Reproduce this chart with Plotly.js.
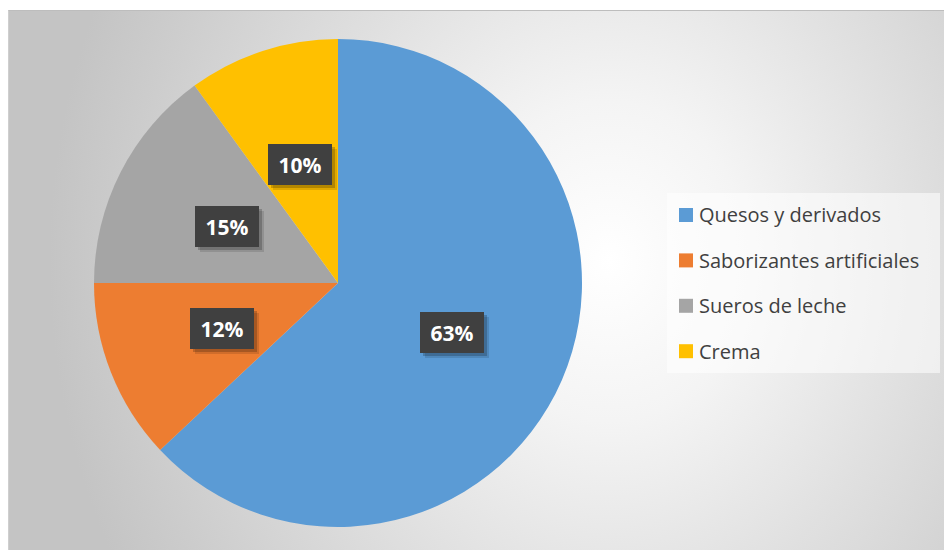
<!DOCTYPE html>
<html>
<head>
<meta charset="utf-8">
<script src="https://cdn.plot.ly/plotly-3.0.1.min.js"></script>
<style>
  html, body { margin: 0; padding: 0; background: #ffffff; }
  #wrap { position: relative; width: 944px; height: 550px; overflow: hidden; }
  #bg {
    position: absolute; left: 8px; top: 10px; width: 936px; height: 540px;
    border-top: 1px solid #bdbdbd; border-left: 1px solid #cfcfcf;
    box-sizing: border-box;
    background: radial-gradient(ellipse 560px 640px at 600px 250px, #ffffff 0%, #f4f4f4 25%, #e0e0e0 55%, #cdcdcd 85%, #c4c4c4 100%);
  }
  #chart { position: absolute; left: 0; top: 0; width: 944px; height: 550px; }
</style>
</head>
<body>
<div id="wrap">
  <div id="bg"></div>
  <div id="chart"></div>
</div>
<script>
// ---- data ----
const categories = ['Quesos y derivados', 'Saborizantes artificiales', 'Sueros de leche', 'Crema'];
const values = [63, 12, 15, 10];
const colors = ['#5B9BD5', '#ED7D31', '#A5A5A5', '#FFC000'];

// ---- layout geometry (pixels) ----
const W = 944, H = 550;
const pieCx = 338, pieCy = 283, pieR = 244;
const dom = {
  x: [(pieCx - pieR) / W, (pieCx + pieR) / W],
  y: [1 - (pieCy + pieR) / H, 1 - (pieCy - pieR) / H]
};

const total = values.reduce((a, b) => a + b, 0);

const annotations = [];
const shapes = [];

// data labels placed at mid-angle, about half radius
let cum = 0;
values.forEach((v, i) => {
  const mid = (cum + v / 2) / total;
  cum += v;
  const ang = mid * 2 * Math.PI; // clockwise from top
  const px = pieCx + 0.51 * pieR * Math.sin(ang);
  const py = pieCy - 0.51 * pieR * Math.cos(ang);
  const txt = Math.round(v / total * 100) + '%';
  const base = {
    x: px / W, y: 1 - py / H, xref: 'paper', yref: 'paper',
    xanchor: 'center', yanchor: 'middle', showarrow: false,
    width: 60, height: 37, borderpad: 2, borderwidth: 0
  };
  // soft shadow
  annotations.push(Object.assign({}, base, {
    text: ' ', bgcolor: 'rgba(0,0,0,0.12)', xshift: 5, yshift: -5
  }));
  annotations.push(Object.assign({}, base, {
    text: ' ', bgcolor: 'rgba(0,0,0,0.2)', xshift: 3, yshift: -3
  }));
  annotations.push(Object.assign({}, base, {
    text: txt, bgcolor: '#404040',
    font: { family: 'Open Sans, sans-serif', size: 21, color: '#ffffff', weight: 'bold' }
  }));
});

// custom legend
const legL = 667, legT = 193, legR = 940, legB = 373;
shapes.push({
  type: 'rect', xref: 'paper', yref: 'paper',
  x0: legL / W, x1: legR / W, y0: 1 - legB / H, y1: 1 - legT / H,
  fillcolor: 'rgba(255,255,255,0.55)', line: { width: 0 }, layer: 'above'
});
const rowY0 = 215, rowStep = 45.4;
categories.forEach((c, i) => {
  const yy = rowY0 + i * rowStep;
  shapes.push({
    type: 'rect', xref: 'paper', yref: 'paper',
    x0: 679 / W, x1: 693 / W, y0: 1 - (yy + 7) / H, y1: 1 - (yy - 7) / H,
    fillcolor: colors[i], line: { width: 0 }, layer: 'above'
  });
  annotations.push({
    x: 697 / W, y: 1 - yy / H, xref: 'paper', yref: 'paper',
    xanchor: 'left', yanchor: 'middle', showarrow: false,
    text: c, font: { family: 'Open Sans, sans-serif', size: 20, color: '#404040' }
  });
});

const data = [{
  type: 'pie',
  labels: categories,
  values: values,
  marker: { colors: colors, line: { width: 0 } },
  sort: false,
  direction: 'clockwise',
  rotation: 0,
  textinfo: 'none',
  hoverinfo: 'skip',
  showlegend: false,
  domain: dom
}];

const layout = {
  width: W, height: H,
  margin: { l: 0, r: 0, t: 0, b: 0 },
  paper_bgcolor: 'rgba(0,0,0,0)',
  plot_bgcolor: 'rgba(0,0,0,0)',
  showlegend: false,
  annotations: annotations,
  shapes: shapes
};

Plotly.newPlot('chart', data, layout, { displayModeBar: false, staticPlot: true });
</script>
</body>
</html>
